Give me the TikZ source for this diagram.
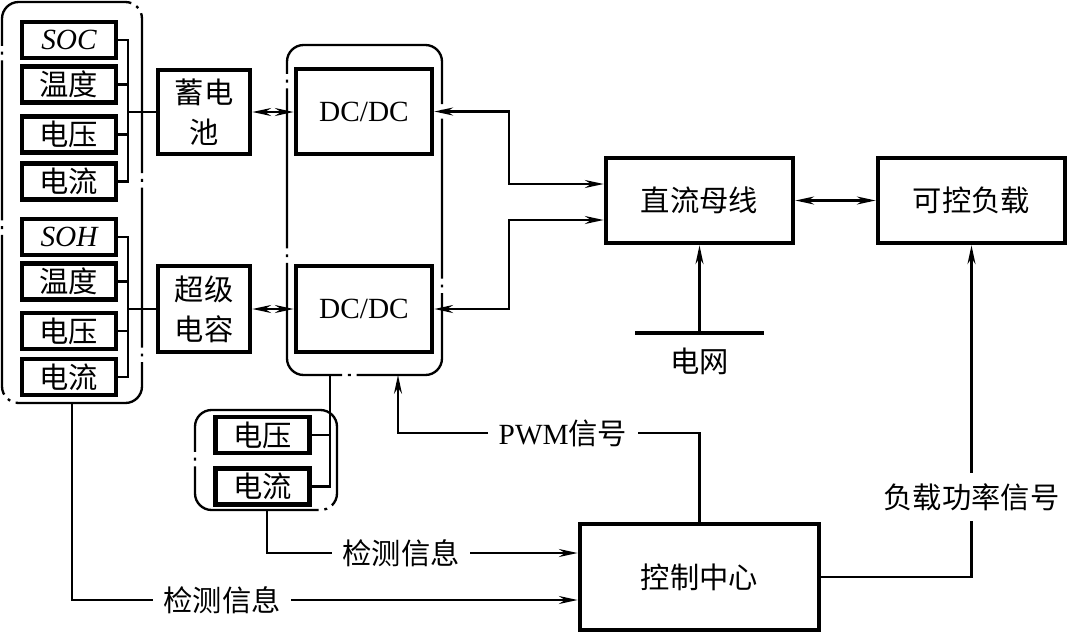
\documentclass[tikz,border=0pt]{standalone}
\usepackage{fontspec}
\setmainfont{Liberation Serif}
\newfontfamily\cjk{Noto Sans CJK SC}
\newcommand\zhfont{\cjk\fontsize{12.5}{17}\selectfont}
\newcommand\enfont{\fontsize{12.5}{17}\selectfont}
\usetikzlibrary{arrows.meta}

\begin{document}
\begin{tikzpicture}[x = 0.015cm, y = -0.015cm,
  line width = 1pt,
  blk/.style = {draw, line width = 2pt, inner sep = 0pt, align = center, font = \zhfont},
  sens/.style = {blk, minimum width = 1.41cm, minimum height = 0.54cm},
  grp/.style = {draw, line width = 1pt, rounded corners = 0.25cm, inner sep = 0pt,
    dash pattern = on 2.4cm off 2.5pt on 1.2pt off 2.5pt},
  lbl/.style = {font = \zhfont, inner sep = 4pt},
  tip/.style = {{Stealth[length = 8pt, width = 3.4pt]}-{Stealth[length = 8pt, width = 3.4pt]}},
  sig/.style = {-{Stealth[length = 8pt, width = 3.4pt]}}]
  \useasboundingbox (0, 0) rectangle (1067, 633);

  % groups
  \node[grp, minimum width = 2.1cm, minimum height = 6.015cm] (lgrp) at (72, 202.5) {};
  \node[grp, minimum width = 2.325cm, minimum height = 4.95cm] (dcgrp) at (364.5, 210) {};
  \node[grp, minimum width = 2.13cm, minimum height = 1.5cm] (mgrp) at (266, 460) {};

  % battery sensors
  \node[sens, font = \enfont\itshape] (soc) at (69, 40) {SOC};
  \node[sens] (tmp1) at (69, 84.5) {温度};
  \node[sens] (vol1) at (69, 134.5) {电压};
  \node[sens] (cur1) at (69, 181.5) {电流};
  % supercap sensors
  \node[sens, font = \enfont\itshape] (soh) at (69, 237) {SOH};
  \node[sens] (tmp2) at (69, 281.5) {温度};
  \node[sens] (vol2) at (69, 331) {电压};
  \node[sens] (cur2) at (69, 377) {电流};
  % dc side sensors
  \node[sens] (vol3) at (262.5, 435) {电压};
  \node[sens] (cur3) at (262.5, 486.5) {电流};

  \node[blk, minimum width = 1.38cm, minimum height = 1.26cm] (bat) at (204, 112) {蓄电\\池};
  \node[blk, minimum width = 1.38cm, minimum height = 1.29cm] (cap) at (204, 309) {超级\\电容};
  \node[blk, font = \enfont, minimum width = 2.04cm, minimum height = 1.275cm] (dc1) at (364, 111.5) {DC/DC};
  \node[blk, font = \enfont, minimum width = 2.04cm, minimum height = 1.29cm] (dc2) at (364, 309) {DC/DC};
  \node[blk, minimum width = 2.805cm, minimum height = 1.275cm] (bus) at (699.5, 200.5) {直流母线};
  \node[blk, minimum width = 2.805cm, minimum height = 1.275cm] (load) at (971.5, 200.5) {可控负载};
  \node[blk, minimum width = 3.585cm, minimum height = 1.59cm] (ctrl) at (699.5, 577) {控制中心};

  \coordinate (b1) at (128, 112);
  \coordinate (b2) at (128, 309);
  \coordinate (b3) at (330, 375);
  \coordinate (j1) at (509, 184);
  \coordinate (j2) at (509, 220);
  \coordinate (grid) at (699.5, 333);
  \coordinate (pwmin) at (398, 375);
  \coordinate (d1) at (267, 510);
  \coordinate (d2) at (72, 403);

  % sensor buses
  \foreach \s in {soc, tmp1, vol1, cur1}
    \draw (\s.east) -| (b1);
  \foreach \s in {soh, tmp2, vol2, cur2}
    \draw (\s.east) -| (b2);
  \foreach \s in {vol3, cur3}
    \draw (\s.east) -| (b3);
  \draw (b1) -- (bat.west);
  \draw (b2) -- (cap.west);

  % power flow
  \draw[tip] (bat.east) -- (dc1.west |- bat.east);
  \draw[tip] (cap.east) -- (dc2.west |- cap.east);
  \draw[tip] (dc1.east) -| (j1) -- (j1 -| bus.west);
  \draw[tip] (dc2.east) -| (j2) -- (j2 -| bus.west);
  \draw[tip] (bus.east) -- (load.west);

  % grid
  \draw[line width = 1.3pt] ([xshift = -0.96cm]grid) -- ([xshift = 0.96cm]grid);
  \node[lbl, anchor = north] (gridlbl) at (699.5, 337) {电网};
  \draw[sig] (grid) -- (bus.south);

  % signals
  \node[lbl, font = \enfont] (pwm) at (563, 433) {PWM{\cjk 信号}};
  \draw (ctrl.north) |- (pwm.east);
  \draw[sig] (pwm.west) -| (pwmin);

  \node[lbl] (lp) at (971.5, 497) {负载功率信号};
  \draw (ctrl.east) -| (lp.south);
  \draw[sig] (lp.north) -- (load.south);

  \node[lbl] (det1) at (401, 553) {检测信息};
  \draw (d1) |- (det1.west);
  \draw[sig] (det1.east) -- (ctrl.west |- det1.east);

  \node[lbl] (det2) at (222, 600) {检测信息};
  \draw (d2) |- (det2.west);
  \draw[sig] (det2.east) -- (ctrl.west |- det2.east);
\end{tikzpicture}
\end{document}
